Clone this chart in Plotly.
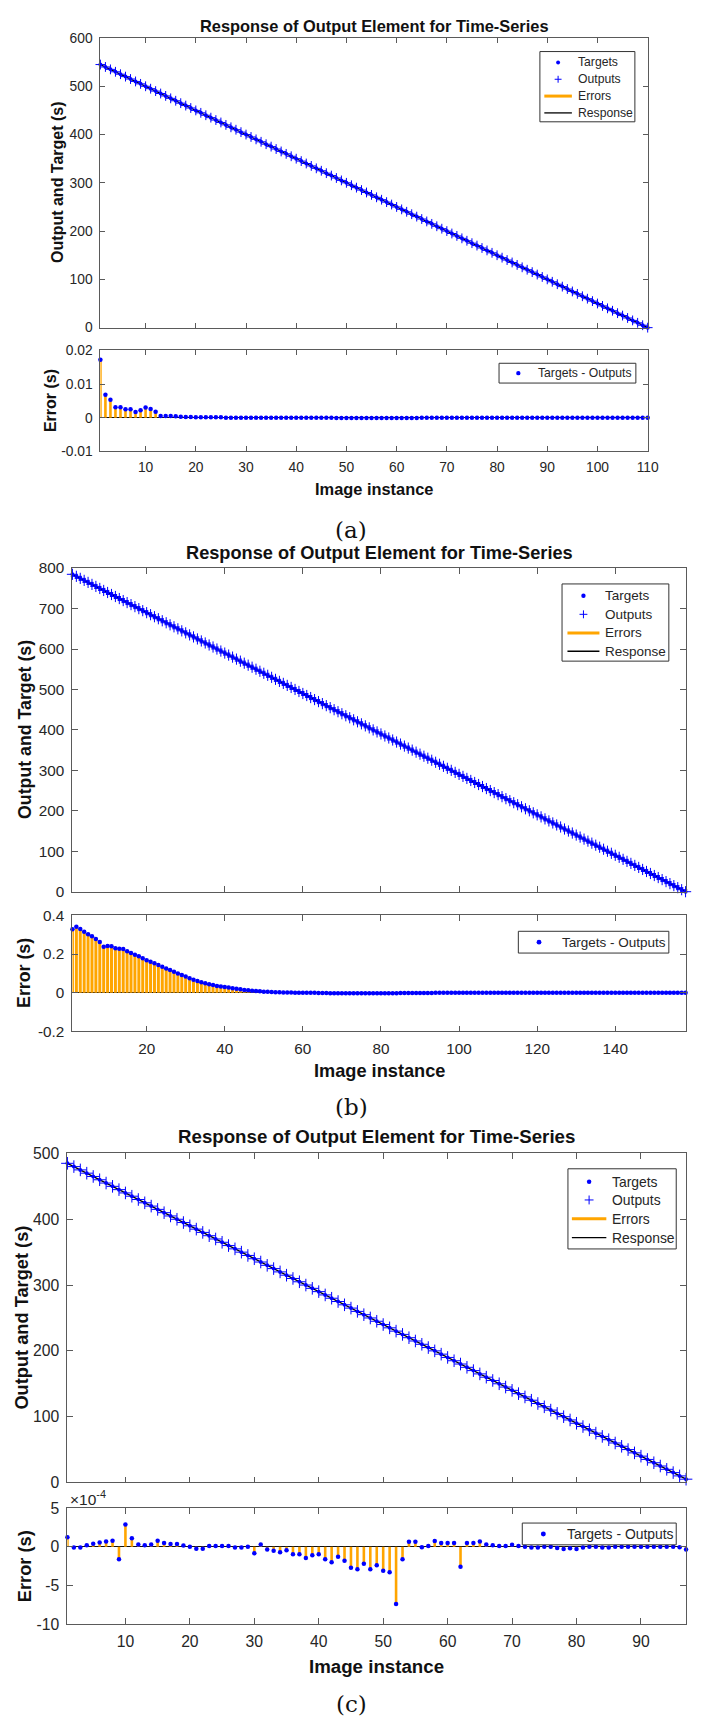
import plotly.graph_objects as go

# ---------------- data ----------------
# (a) 110 image instances
targets_a = [
    545, 540, 535, 530, 525, 520, 515, 510, 505, 500,
    495, 490, 485, 480, 475, 470, 465, 460, 455, 450,
    445, 440, 435, 430, 425, 420, 415, 410, 405, 400,
    395, 390, 385, 380, 375, 370, 365, 360, 355, 350,
    345, 340, 335, 330, 325, 320, 315, 310, 305, 300,
    295, 290, 285, 280, 275, 270, 265, 260, 255, 250,
    245, 240, 235, 230, 225, 220, 215, 210, 205, 200,
    195, 190, 185, 180, 175, 170, 165, 160, 155, 150,
    145, 140, 135, 130, 125, 120, 115, 110, 105, 100,
    95, 90, 85, 80, 75, 70, 65, 60, 55, 50,
    45, 40, 35, 30, 25, 20, 15, 10, 5, 0,
]
errors_a = [
    0.0172, 0.0068, 0.0053, 0.0031, 0.0031, 0.0025, 0.0025, 0.0017, 0.0022, 0.0030,
    0.0026, 0.0018, 0.0005, 0.0005, 0.0005, 0.0004, 0.0003, 0.0002, 0.0002, 0.0001,
    0.0001, 0.0001, 0.0001, 0.0001, 0.0001, 0.0000, 0.0000, 0.0000, 0.0000, 0.0000,
    0.0000, 0.0000, 0.0000, 0.0000, 0.0000, 0.0000, 0.0000, 0.0000, 0.0000, 0.0000,
    0.0000, 0.0000, 0.0000, 0.0000, 0.0000, 0.0000, 0.0000, -0.0001, -0.0001, -0.0001,
    -0.0001, -0.0001, -0.0001, -0.0001, -0.0001, -0.0001, -0.0001, -0.0001, -0.0001, -0.0001,
    -0.0001, -0.0001, -0.0001, -0.0001, 0.0000, 0.0000, 0.0000, 0.0000, 0.0000, 0.0000,
    0.0000, 0.0000, 0.0000, 0.0000, 0.0000, 0.0000, 0.0000, 0.0000, 0.0000, 0.0000,
    0.0000, 0.0000, 0.0000, 0.0000, 0.0000, 0.0000, 0.0000, 0.0000, 0.0000, 0.0000,
    0.0000, 0.0000, 0.0000, 0.0000, 0.0000, 0.0000, 0.0000, 0.0000, 0.0000, 0.0000,
    0.0000, 0.0000, 0.0000, 0.0000, 0.0000, 0.0000, 0.0000, 0.0000, 0.0000, 0.0000,
]

# (b) 158 image instances
targets_b = [
    785, 780, 775, 770, 765, 760, 755, 750, 745, 740,
    735, 730, 725, 720, 715, 710, 705, 700, 695, 690,
    685, 680, 675, 670, 665, 660, 655, 650, 645, 640,
    635, 630, 625, 620, 615, 610, 605, 600, 595, 590,
    585, 580, 575, 570, 565, 560, 555, 550, 545, 540,
    535, 530, 525, 520, 515, 510, 505, 500, 495, 490,
    485, 480, 475, 470, 465, 460, 455, 450, 445, 440,
    435, 430, 425, 420, 415, 410, 405, 400, 395, 390,
    385, 380, 375, 370, 365, 360, 355, 350, 345, 340,
    335, 330, 325, 320, 315, 310, 305, 300, 295, 290,
    285, 280, 275, 270, 265, 260, 255, 250, 245, 240,
    235, 230, 225, 220, 215, 210, 205, 200, 195, 190,
    185, 180, 175, 170, 165, 160, 155, 150, 145, 140,
    135, 130, 125, 120, 115, 110, 105, 100, 95, 90,
    85, 80, 75, 70, 65, 60, 55, 50, 45, 40,
    35, 30, 25, 20, 15, 10, 5, 0,
]
errors_b = [
    0.328, 0.342, 0.330, 0.316, 0.302, 0.292, 0.278, 0.262, 0.238, 0.242,
    0.240, 0.230, 0.228, 0.226, 0.215, 0.205, 0.196, 0.188, 0.178, 0.168,
    0.160, 0.152, 0.143, 0.134, 0.125, 0.117, 0.108, 0.099, 0.091, 0.083,
    0.075, 0.067, 0.060, 0.054, 0.048, 0.043, 0.039, 0.035, 0.032, 0.029,
    0.026, 0.023, 0.020, 0.017, 0.014, 0.012, 0.010, 0.008, 0.007, 0.005,
    0.004, 0.003, 0.002, 0.002, 0.001, 0.001, 0.001, 0.000, 0.000, 0.000,
    0.000, -0.001, -0.001, -0.002, -0.002, -0.002, -0.003, -0.003, -0.003, -0.003,
    -0.003, -0.003, -0.003, -0.003, -0.003, -0.003, -0.003, -0.003, -0.003, -0.003,
    -0.003, -0.003, -0.003, -0.003, -0.002, -0.002, -0.002, -0.002, -0.002, -0.002,
    -0.002, -0.002, -0.002, -0.001, -0.001, -0.001, -0.001, -0.001, -0.001, -0.001,
    -0.001, -0.001, -0.001, -0.001, -0.001, 0.000, 0.000, 0.000, 0.000, 0.000,
    0.000, 0.000, 0.000, 0.000, 0.000, 0.000, 0.000, 0.000, 0.000, 0.000,
    0.000, 0.000, 0.000, 0.000, 0.000, 0.000, 0.000, 0.000, 0.000, 0.000,
    0.000, 0.000, 0.000, 0.000, 0.000, 0.000, 0.000, 0.000, 0.000, 0.000,
    0.000, 0.000, 0.000, 0.000, 0.000, 0.000, 0.000, 0.000, 0.000, 0.000,
    0.000, 0.000, 0.000, 0.000, 0.000, 0.000, 0.000, 0.000,
]

# (c) 97 image instances
targets_c = [
    485, 480, 475, 470, 465, 460, 455, 450, 445, 440,
    435, 430, 425, 420, 415, 410, 405, 400, 395, 390,
    385, 380, 375, 370, 365, 360, 355, 350, 345, 340,
    335, 330, 325, 320, 315, 310, 305, 300, 295, 290,
    285, 280, 275, 270, 265, 260, 255, 250, 245, 240,
    235, 230, 225, 220, 215, 210, 205, 200, 195, 190,
    185, 180, 175, 170, 165, 160, 155, 150, 145, 140,
    135, 130, 125, 120, 115, 110, 105, 100, 95, 90,
    85, 80, 75, 70, 65, 60, 55, 50, 45, 40,
    35, 30, 25, 20, 15, 10, 5,
]
# Targets - Outputs, in units of 1e-4 s
errors_c_e4 = [
    1.25, -0.1, -0.1, 0.2, 0.4, 0.55, 0.7, 0.77, -1.6, 2.9,
    1.1, 0.3, 0.2, 0.3, 0.77, 0.5, 0.35, 0.35, 0.17, 0.0,
    -0.25, -0.25, 0.1, 0.1, 0.1, 0.1, -0.1, -0.1, 0.0, -0.85,
    0.3, -0.35, -0.5, -0.7, -0.45, -0.95, -0.95, -1.45, -1.1, -0.95,
    -1.6, -2.0, -1.3, -1.8, -2.7, -2.9, -2.2, -2.9, -2.4, -3.1,
    -3.3, -7.4, -1.6, 0.65, 0.65, -0.05, 0.1, 0.75, 0.5, 0.5,
    0.5, -2.6, 0.5, 0.5, 0.7, 0.3, 0.2, 0.1, 0.1, 0.25,
    0.1, 0.0, -0.1, -0.1, 0.0, 0.0, -0.15, -0.3, -0.2, -0.3,
    -0.1, 0.0, 0.0, -0.1, -0.1, 0.0, 0.0, 0.0, 0.0, 0.0,
    0.0, 0.0, 0.0, 0.0, 0.0, -0.05, -0.35,
]
errors_c = [v * 1e-4 for v in errors_c_e4]

xticks_a = [10, 20, 30, 40, 50, 60, 70, 80, 90, 100, 110]
xticks_b = [20, 40, 60, 80, 100, 120, 140]
xticks_c = [10, 20, 30, 40, 50, 60, 70, 80, 90]
yticks_top_a = [0, 100, 200, 300, 400, 500, 600]
yticks_top_b = [0, 100, 200, 300, 400, 500, 600, 700, 800]
yticks_top_c = [0, 100, 200, 300, 400, 500]
yticks_err_a = [-0.01, 0, 0.01, 0.02]
ylabels_err_a = ["-0.01", "0", "0.01", "0.02"]
yticks_err_b = [-0.2, 0, 0.2, 0.4]
ylabels_err_b = ["-0.2", "0", "0.2", "0.4"]
yticks_err_c = [-10e-4, -5e-4, 0, 5e-4]
ylabels_err_c = ["-10", "-5", "0", "5"]

TITLE = "Response of Output Element for Time-Series"
legend_names = ["Targets", "Outputs", "Errors", "Response"]
error_legend_name = "Targets - Outputs"

# ---------------- layout helpers ----------------
W, H = 701, 1727
SANS = "Liberation Sans, Arial, Helvetica, sans-serif"
SERIF = "DejaVu Serif, Liberation Serif, serif"
AXC = "#5a5a5a"
TXC = "#262626"
BLUE = "#0000ff"
ORANGE = "#ffa500"


def fx(px):
    return px / W


def fy(py):
    return 1 - py / H


fig = go.Figure()
annotations = []
shapes = []
layout = {}


def pline(x0, y0, x1, y1, color, width):
    shapes.append(dict(type="line", xref="paper", yref="paper",
                       x0=fx(x0), y0=fy(y0), x1=fx(x1), y1=fy(y1),
                       line=dict(color=color, width=width), layer="above"))


def pdot(cx, cy, r, color):
    shapes.append(dict(type="circle", xref="paper", yref="paper",
                       x0=fx(cx - r), x1=fx(cx + r), y0=fy(cy + r), y1=fy(cy - r),
                       fillcolor=color, line=dict(width=0), layer="above"))


def pbox(x0, x1, y0, y1):
    shapes.append(dict(type="rect", xref="paper", yref="paper",
                       x0=fx(x0), x1=fx(x1), y0=fy(y1), y1=fy(y0),
                       fillcolor="white", line=dict(color="#333333", width=1),
                       layer="above"))


def ptext(text, x, y, size, anchor="left", color=TXC, family=SANS, angle=0):
    annotations.append(dict(text=text, x=fx(x), y=fy(y), xref="paper", yref="paper",
                            showarrow=False, xanchor=anchor, yanchor="middle",
                            textangle=angle,
                            font=dict(family=family, size=size, color=color)))


panels = [
    dict(tag="(a)", x=targets_a, e=errors_a, x0=102, x1=658,
         top=(29.3, 322), err=(345, 447), xr=[1, 110],
         xt=xticks_a, yt=yticks_top_a, yr=[0, 600],
         ye=yticks_err_a, yel=ylabels_err_a, yer=[-0.01, 0.02],
         s=1.0, title_y=17, xl_y=485, cap_y=526,
         ylab_x=59, elab_x=52, stem_w=2.6, plus=7,
         # legend: box x0, x1, y0, y1, glyph x0, x1, text x, rows, font
         leg=dict(box=(548.5, 645, 43, 114), g=(553, 581), tx=585.5,
                  rows=(54, 71, 88, 105), fs=12.2),
         eleg=dict(box=(507, 646, 358, 378), g=526.6, tx=545, row=368, fs=12.2)),
    dict(tag="(b)", x=targets_b, e=errors_b, x0=73.6, x1=696.5,
         top=(565, 892), err=(916, 1033), xr=[1, 158],
         xt=xticks_b, yt=yticks_top_b, yr=[0, 800],
         ye=yticks_err_b, yel=ylabels_err_b, yer=[-0.2, 0.4],
         s=1.11, title_y=550, xl_y=1073, cap_y=1110,
         ylab_x=25.5, elab_x=25, stem_w=3.0, plus=8,
         leg=dict(box=(571, 679.5, 581, 659), g=(576.5, 609), tx=613,
                  rows=(593, 611.7, 630.5, 649), fs=13.5),
         eleg=dict(box=(526.6, 679.5, 932, 954), g=547.6, tx=568.6, row=943, fs=13.5)),
    dict(tag="(c)", x=targets_c, e=errors_c, x0=68.5, x1=697,
         top=(1156.5, 1489), err=(1515, 1632), xr=[1, 97],
         xt=xticks_c, yt=yticks_top_c, yr=[0, 500],
         ye=yticks_err_c, yel=ylabels_err_c, yer=[-10e-4, 5e-4],
         s=1.14, title_y=1139, xl_y=1675, cap_y=1713,
         ylab_x=22, elab_x=24.5, stem_w=2.6, plus=9,
         leg=dict(box=(577, 687, 1172, 1253), g=(581, 616), tx=619.5,
                  rows=(1185, 1203.5, 1222.5, 1241.5), fs=13.9),
         eleg=dict(box=(530.6, 687, 1530, 1552), g=552, tx=573.5, row=1541, fs=13.9)),
]

for n, p in enumerate(panels):
    s = p["s"]
    it = 2 * n + 1
    ie = 2 * n + 2
    xa_t = "x" if it == 1 else f"x{it}"
    ya_t = "y" if it == 1 else f"y{it}"
    xa_e, ya_e = f"x{ie}", f"y{ie}"

    targets = p["x"]
    errs = p["e"]
    idx = list(range(1, len(targets) + 1))
    outputs = [t - e for t, e in zip(targets, errs)]

    # --- upper axes: error segments, response line, targets, outputs
    seg_x, seg_y = [], []
    for i, t, o in zip(idx, targets, outputs):
        seg_x += [i, i, None]
        seg_y += [t, o, None]
    fig.add_trace(go.Scatter(x=seg_x, y=seg_y, mode="lines", name="Errors",
                             line=dict(color=ORANGE, width=3), showlegend=False,
                             xaxis=xa_t, yaxis=ya_t, cliponaxis=False))
    fig.add_trace(go.Scatter(x=idx, y=outputs, mode="lines", name="Response",
                             line=dict(color="black", width=1.3), showlegend=False,
                             xaxis=xa_t, yaxis=ya_t, cliponaxis=False))
    fig.add_trace(go.Scatter(x=idx, y=targets, mode="markers", name="Targets",
                             marker=dict(color=BLUE, size=4), showlegend=False,
                             xaxis=xa_t, yaxis=ya_t, cliponaxis=False))
    fig.add_trace(go.Scatter(x=idx, y=outputs, mode="markers", name="Outputs",
                             marker=dict(symbol="cross-thin", size=p["plus"],
                                         line=dict(color=BLUE, width=1)),
                             showlegend=False, xaxis=xa_t, yaxis=ya_t,
                             cliponaxis=False))

    # --- lower axes: error stems with dots
    st_x, st_y = [], []
    for i, e in zip(idx, errs):
        st_x += [i, i, None]
        st_y += [0, e, None]
    fig.add_trace(go.Scatter(x=st_x, y=st_y, mode="lines", showlegend=False,
                             line=dict(color=ORANGE, width=p["stem_w"]),
                             xaxis=xa_e, yaxis=ya_e, cliponaxis=False))
    fig.add_trace(go.Scatter(x=idx, y=errs, mode="markers", name=error_legend_name,
                             marker=dict(color=BLUE, size=4.5), showlegend=False,
                             xaxis=xa_e, yaxis=ya_e, cliponaxis=False))

    tick_font = dict(family=SANS, size=13.8 * s, color=TXC)
    common = dict(showline=True, linecolor=AXC, linewidth=1, mirror="ticks",
                  ticks="inside", ticklen=5 * s, tickcolor=AXC, tickwidth=1,
                  showgrid=False, tickfont=tick_font, layer="above traces")
    xdom = [fx(p["x0"]), fx(p["x1"])]

    layout["xaxis" if it == 1 else f"xaxis{it}"] = dict(
        common, domain=xdom, range=p["xr"], tickvals=p["xt"],
        showticklabels=False, zeroline=False, anchor=ya_t)
    layout["yaxis" if it == 1 else f"yaxis{it}"] = dict(
        common, domain=[fy(p["top"][1]), fy(p["top"][0])], range=p["yr"],
        tickvals=p["yt"], ticktext=[str(v) for v in p["yt"]],
        zeroline=False, anchor=xa_t, ticklabelstandoff=4)
    layout[f"xaxis{ie}"] = dict(
        common, domain=xdom, range=p["xr"], tickvals=p["xt"],
        ticktext=[str(v) for v in p["xt"]], zeroline=False, anchor=ya_e,
        ticklabelstandoff=3)
    layout[f"yaxis{ie}"] = dict(
        common, domain=[fy(p["err"][1]), fy(p["err"][0])], range=p["yer"],
        tickvals=p["ye"], ticktext=p["yel"], zeroline=True,
        zerolinecolor="#111111", zerolinewidth=1, anchor=xa_e,
        ticklabelstandoff=4)

    # --- legend of the upper axes
    lg = p["leg"]
    bx0, bx1, by0, by1 = lg["box"]
    pbox(bx0, bx1, by0, by1)
    gx0, gx1 = lg["g"]
    gc = (gx0 + gx1) / 2
    r_t, r_o, r_e, r_r = lg["rows"]
    pdot(gc, r_t, 2.0 * s, BLUE)
    h = p["plus"] / 2
    pline(gc - h, r_o, gc + h, r_o, BLUE, 1)
    pline(gc, r_o - h, gc, r_o + h, BLUE, 1)
    pline(gx0, r_e, gx1, r_e, ORANGE, 3)
    pline(gx0, r_r, gx1, r_r, "black", 1.3)
    for name, row in zip(legend_names, lg["rows"]):
        ptext(name, lg["tx"], row, lg["fs"])

    # --- legend of the error axes
    el = p["eleg"]
    bx0, bx1, by0, by1 = el["box"]
    pbox(bx0, bx1, by0, by1)
    pdot(el["g"], el["row"], 2.2 * s, BLUE)
    ptext(error_legend_name, el["tx"], el["row"], el["fs"])

    # --- titles and axis labels
    cx = (p["x0"] + p["x1"]) / 2
    ptext(f"<b>{TITLE}</b>", cx, p["title_y"], 16.4 * s, "center", "#111111")
    ptext("<b>Output and Target (s)</b>", p["ylab_x"],
          (p["top"][0] + p["top"][1]) / 2, 16 * s, "center", "#111111", angle=-90)
    ptext("<b>Error (s)</b>", p["elab_x"], (p["err"][0] + p["err"][1]) / 2,
          16 * s, "center", "#111111", angle=-90)
    ptext("<b>Image instance</b>", cx, p["xl_y"], 16.4 * s, "center", "#111111")
    ptext(p["tag"], 357, p["cap_y"], 23, "center", "#111111", family=SERIF)

# exponent label of the (c) error axis
ptext("\u00d710<sup>-4</sup>", 69, 1505, 15.5)

fig.update_layout(
    width=W, height=H,
    margin=dict(l=0, r=0, t=0, b=0),
    paper_bgcolor="white", plot_bgcolor="white",
    showlegend=False,
    annotations=annotations,
    shapes=shapes,
    **layout,
)

fig.write_html("out.html")
